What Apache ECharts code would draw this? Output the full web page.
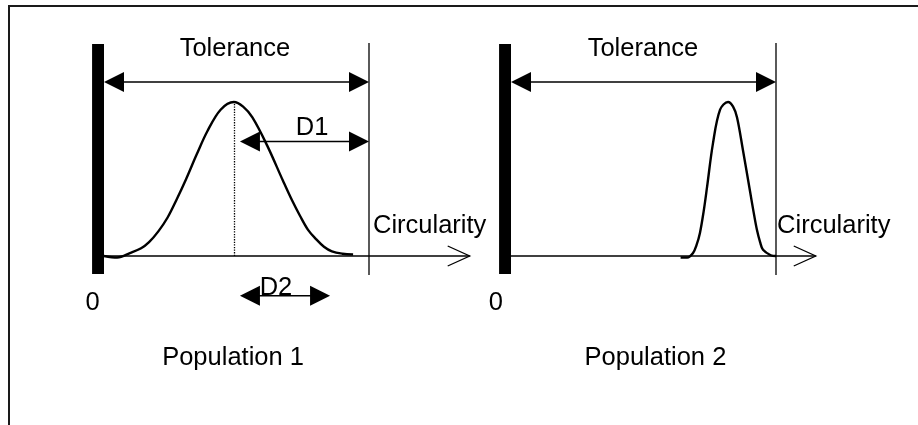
<!DOCTYPE html>
<html>
<head>
<meta charset="utf-8">
<script src="https://cdn.jsdelivr.net/npm/echarts@6/dist/echarts.min.js"></script>
<style>
html, body { margin: 0; padding: 0; background: #fff; }
#main { width: 918px; height: 425px; }
</style>
</head>
<body>
<div id="main"></div>
<script>
// populations and their circularity distributions (peak height = 1)
var populations = ['Population 1', 'Population 2'];
var tolerance = 10;
var curve1 = [[0, 0], [0.5, -0.01], [1.0, 0.02], [1.4, 0.05], [1.7, 0.09], [2.05, 0.16], [2.4, 0.25],
    [2.75, 0.37], [3.1, 0.5], [3.5, 0.66], [3.9, 0.81], [4.4, 0.95], [4.9, 1.0], [5.25, 0.97],
    [5.6, 0.9], [6.15, 0.72], [6.75, 0.49], [7.1, 0.36], [7.4, 0.26], [7.7, 0.17], [8.0, 0.11],
    [8.3, 0.06], [8.6, 0.03], [9.0, 0.015], [9.4, 0.01]];
var curve2 = [[6.4, -0.01], [6.65, -0.01], [6.87, 0.02], [7.0, 0.07], [7.13, 0.15], [7.27, 0.29],
    [7.4, 0.45], [7.62, 0.73], [7.89, 0.95], [8.19, 1.0], [8.38, 0.97], [8.53, 0.9], [8.75, 0.69],
    [9.02, 0.42], [9.15, 0.29], [9.28, 0.17], [9.4, 0.09], [9.51, 0.04], [9.8, 0.005], [10, 0]];
// axis length of each panel
var axisEnd = [13.8, 11.5];
// double arrows: [from, to, level]
var arrows1 = [[0, 10, 1.13], [5.13, 10, 0.744], [5.13, 8.53, -0.258]];
var arrows2 = [[0, 10, 1.13]];

var FONT = '25.5px "Liberation Sans", Arial, sans-serif';

function peakOf(c) {
    var p = c[0];
    c.forEach(function (d) { if (d[1] > p[1]) p = d; });
    return p;
}

function renderPanel(params, api) {
    var end = api.value(0);
    var o = api.coord([0, 0]);
    var b1 = api.coord([-0.45, 1.377]);
    var b2 = api.coord([0, -0.117]);
    var t1 = api.coord([tolerance, 1.383]);
    var t2 = api.coord([tolerance, -0.123]);
    var tip = api.coord([end, 0]);
    return {
        type: 'group',
        children: [
            { type: 'rect', shape: { x: b1[0], y: b1[1], width: b2[0] - b1[0], height: b2[1] - b1[1] }, style: { fill: '#000' } },
            { type: 'line', shape: { x1: t1[0], y1: t1[1], x2: t2[0], y2: t2[1] }, style: { stroke: '#000', lineWidth: 1.3 } },
            { type: 'line', shape: { x1: o[0], y1: o[1], x2: tip[0], y2: tip[1] }, style: { stroke: '#000', lineWidth: 1.3 } },
            { type: 'polyline', shape: { points: [[tip[0] - 22, tip[1] - 10], [tip[0], tip[1]], [tip[0] - 22, tip[1] + 10]] },
                style: { stroke: '#000', lineWidth: 1.3, fill: null } }
        ]
    };
}

function renderArrow(params, api) {
    var a = api.coord([api.value(0), api.value(2)]);
    var b = api.coord([api.value(1), api.value(2)]);
    var h = 20, w = 10;
    return {
        type: 'group',
        children: [
            { type: 'line', shape: { x1: a[0] + 5, y1: a[1], x2: b[0] - 5, y2: b[1] }, style: { stroke: '#000', lineWidth: 1.5 } },
            { type: 'polygon', shape: { points: [[a[0], a[1]], [a[0] + h, a[1] - w], [a[0] + h, a[1] + w]] }, style: { fill: '#000' } },
            { type: 'polygon', shape: { points: [[b[0], b[1]], [b[0] - h, b[1] - w], [b[0] - h, b[1] + w]] }, style: { fill: '#000' } }
        ]
    };
}

function renderText(params, api) {
    var p = api.coord([api.value(0), api.value(1)]);
    var item = params.context.items[params.dataIndex];
    return {
        type: 'text',
        x: p[0], y: p[1],
        style: { text: item.name, font: FONT, fill: '#000', align: item.align || 'center', verticalAlign: 'middle' }
    };
}

function textSeries(idx, items) {
    return {
        type: 'custom', xAxisIndex: idx, yAxisIndex: idx, silent: true,
        renderItem: function (params, api) { params.context.items = items; return renderText(params, api); },
        data: items.map(function (d) { return d.value; })
    };
}

var labels1 = [
    { name: 'Tolerance', value: [4.94, 1.345] },
    { name: 'D1', value: [7.85, 0.834] },
    { name: 'D2', value: [6.49, -0.205] },
    { name: '0', value: [-0.43, -0.302] },
    { name: populations[0], value: [4.87, -0.66] },
    { name: 'Circularity', value: [10.15, 0.198], align: 'left' }
];
var labels2 = [
    { name: 'Tolerance', value: [4.98, 1.345] },
    { name: '0', value: [-0.57, -0.302] },
    { name: populations[1], value: [5.45, -0.66] },
    { name: 'Circularity', value: [10.04, 0.198], align: 'left' }
];

var peak1 = peakOf(curve1);

var chart = echarts.init(document.getElementById('main'));
var option = {
    animation: false,
    backgroundColor: '#fff',
    graphic: [{
        type: 'polyline',
        shape: { points: [[9, 425], [9, 6], [918, 6]] },
        style: { stroke: '#1a1a1a', lineWidth: 2, fill: null }
    }],
    grid: [
        { left: 90.75, top: 40.4, width: 384.25, height: 246.4 },
        { left: 497.75, top: 40.4, width: 331.25, height: 246.4 }
    ],
    xAxis: [
        { type: 'value', gridIndex: 0, min: -0.5, max: 14, show: false },
        { type: 'value', gridIndex: 1, min: -0.5, max: 12, show: false }
    ],
    yAxis: [
        { type: 'value', gridIndex: 0, min: -0.2, max: 1.4, show: false },
        { type: 'value', gridIndex: 1, min: -0.2, max: 1.4, show: false }
    ],
    series: [
        { type: 'custom', xAxisIndex: 0, yAxisIndex: 0, silent: true, renderItem: renderPanel, data: [[axisEnd[0]]] },
        { type: 'custom', xAxisIndex: 1, yAxisIndex: 1, silent: true, renderItem: renderPanel, data: [[axisEnd[1]]] },
        {
            type: 'line', xAxisIndex: 0, yAxisIndex: 0, data: curve1, smooth: 0.35,
            showSymbol: false, symbol: 'none', lineStyle: { color: '#000', width: 2.4 },
            markLine: {
                silent: true, symbol: 'none', label: { show: false },
                lineStyle: { color: '#000', type: 'dotted', width: 1.3 },
                data: [[{ coord: [peak1[0], 0] }, { coord: peak1 }]]
            }
        },
        {
            type: 'line', xAxisIndex: 1, yAxisIndex: 1, data: curve2, smooth: 0.35,
            showSymbol: false, symbol: 'none', lineStyle: { color: '#000', width: 2.4 }
        },
        { type: 'custom', xAxisIndex: 0, yAxisIndex: 0, silent: true, renderItem: renderArrow, data: arrows1 },
        { type: 'custom', xAxisIndex: 1, yAxisIndex: 1, silent: true, renderItem: renderArrow, data: arrows2 },
        textSeries(0, labels1),
        textSeries(1, labels2)
    ]
};
chart.setOption(option);
</script>
</body>
</html>
